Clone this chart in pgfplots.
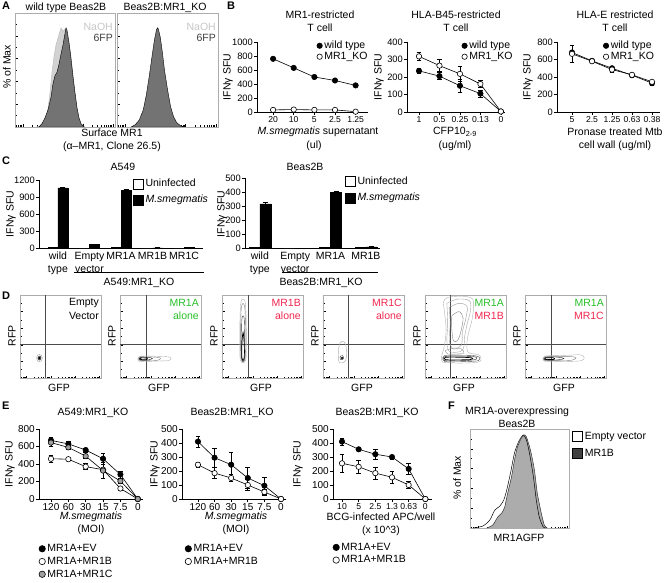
\documentclass[border=0pt]{standalone}
\usepackage{fontspec}
\setmainfont{Liberation Sans}
\usepackage{pgfplots}
\pgfplotsset{compat=1.18}
\definecolor{mygreen}{RGB}{40,190,40}
\definecolor{myred}{RGB}{240,40,80}
\newcommand\fs{\fontsize{10.5}{12}\selectfont}
\newcommand\ft{\fontsize{10}{12}\selectfont}
\newcommand\fsm{\fontsize{8.6}{10}\selectfont}
\newcommand\fm{\fontsize{9.3}{11}\selectfont}
\newcommand\T[4][]{\node[font=\fs,inner sep=0pt,#1] at (#2pt,{(582-#3)*1pt}) {#4};}
\newcommand\PL[3]{\node[font=\bfseries\fontsize{11}{12}\selectfont,inner sep=0pt,anchor=north west] at (#1pt,{(582-#2)*1pt}) {#3};}
\pgfplotsset{
  base/.style={scale only axis, anchor=south west, clip=false,
    /pgf/number format/assume math mode=true,
    /pgf/number format/set thousands separator={},
    tick label style={font=\ft, inner sep=1pt}},
  prism/.style={base,
    axis x line*=bottom, axis y line*=left,
    axis line style={line width=0.7pt, -},
    tick align=outside, major tick length=3pt,
    tick style={black, line width=0.7pt},
    ymin=0,
    legend style={draw=none, fill=none, font=\fs, inner sep=0pt, outer sep=0pt, row sep=-2pt, anchor=north west, cells={anchor=west}},
    legend image code/.code={\draw[##1, mark repeat=1] plot coordinates {(3pt,0pt)};}},
  bstyle/.style={prism, yticklabel style={font=\fm}, xticklabel style={font=\fsm}},
  lp/.style={black, line width=0.6pt, mark=*, mark size=2.7pt, mark options={solid, line width=0.6pt, draw=black, fill=#1},
    error bars/y dir=both, error bars/y explicit, error bars/error bar style={line width=0.6pt, black}, error bars/error mark options={rotate=90, mark size=2.3pt, line width=0.6pt, black}},
  bars/.style={prism, ybar=0pt, xtick style={draw=none},
    yticklabel style={font=\fm},
    xticklabel style={font=\fontsize{10.5}{13}\selectfont, align=center},
    legend style={row sep=3pt},
    legend image code/.code={\draw[##1] (0pt,-5pt) rectangle (10pt,5pt);}},
  bb/.style={draw=black, line width=0.6pt, fill=#1, error bars/y dir=plus, error bars/y explicit, error bars/error bar style={line width=0.6pt, black}, error bars/error mark options={rotate=90, mark size=2.5pt, line width=0.6pt, black}},
  flow/.style={base, clip=true, xmin=0,xmax=100,ymin=0,ymax=100,
    axis line style={draw=gray!65, line width=0.6pt},
    xtick pos=left, ytick pos=left, tick align=inside,
    major tick length=2.5pt, minor tick length=1.5pt,
    tick style={black, line width=0.5pt},
    xticklabels={}, yticklabels={},
    xtick={8,38,68,98}, minor xtick={1.3,3.4,5.1,6.6,17,22.3,26.1,29,31.3,33.4,35.1,36.6,47,52.3,56.1,59,61.3,63.4,65.1,66.6,77,82.3,86.1,89,91.3,93.4,95.1,96.6},
    ytick={0,20,40,60,80,100}, minor ytick={10,30,50,70,90}},
  ct/.style={smooth, tension=0.55, line width=0.4pt, draw=#1},
  ql/.style={black!70, line width=0.6pt},
}
\begin{document}
\begin{tikzpicture}
% ================= A
\PL{2}{2}{A}
\begin{axis}[flow, at={(15pt,455pt)}, width=100pt, height=114pt]
\addplot[fill=gray!35, draw=gray!55, line width=0.4pt] coordinates {(22,0) (25,1) (28,3) (31,8) (33,16) (35,30) (37,48) (39,62) (41,72) (43,78) (45,84) (46,87) (48,84) (50,86) (52,82) (54,74) (56,62) (58,46) (60,30) (62,16) (64,7) (66,2) (70,0)} \closedcycle;
\addplot[fill=black!55, draw=black, line width=0.4pt] coordinates {(24,0) (27,3) (30,8) (33,15) (36,26) (38,38) (40,45) (42,48) (44,55) (46,64) (48,72) (50,82) (51,87) (52,85) (54,74) (56,60) (58,44) (60,30) (62,17) (64,8) (66,3) (69,0)} \closedcycle;
\end{axis}
\begin{axis}[flow, at={(117pt,455pt)}, width=101pt, height=114pt]
\addplot[fill=black!55, draw=black, line width=0.4pt] coordinates {(14,0) (18,2) (22,6) (26,15) (29,28) (32,45) (35,64) (37,76) (39,85) (40,87) (41,86) (43,78) (45,65) (47,50) (50,33) (53,18) (56,9) (59,4) (63,1) (67,0)} \closedcycle;
\end{axis}
\T{66}{8}{wild type Beas2B}
\T{165}{8}{Beas2B:MR1\_KO}
\T[anchor=east, text=gray!45]{113}{27}{NaOH}
\T[anchor=east, text=black!75]{113}{38}{6FP}
\T[anchor=east, text=gray!45]{216}{27}{NaOH}
\T[anchor=east, text=black!75]{216}{38}{6FP}
\T[rotate=90]{7}{67}{\% of Max}
\T{112}{133}{Surface MR1}
\T{112}{147}{(α–MR1, Clone 26.5)}
% ================= B
\PL{227}{2}{B}
\begin{axis}[bstyle, at={(257pt,470pt)}, width=111pt, height=70pt,
  xmin=-0.78, xmax=4.6, ymax=1000, ytick={0,200,...,1000},
  xtick={0,...,4}, xticklabels={20,10,5,2.5,1.25},
  legend style={at={(0.54,1.04)}}]
\addplot[lp=black] coordinates {(0,760) (1,630) (2,500) (3,450) (4,380)};
\addlegendentry{wild type}
\addplot[lp=white] coordinates {(0,30) (1,35) (2,30) (3,30) (4,5)};
\addlegendentry{MR1\_KO}
\end{axis}
\T{320}{15}{MR1-restricted}
\T{320}{28}{T cell}
\T{318}{132}{\textit{M.smegmatis} supernatant}
\T{314}{146}{(ul)}
\T[rotate=90]{228}{77}{IFNγ SFU}
\begin{axis}[bstyle, at={(407pt,470pt)}, width=98pt, height=70pt,
  xmin=-0.585, xmax=4.2, ymax=400, ytick={0,100,...,400},
  xtick={0,...,4}, xticklabels={1,0.5,0.25,0.13,0},
  legend style={at={(0.56,1.04)}}]
\addplot[lp=black] coordinates {(0,235) +- (0,15) (1,205) +- (0,20) (2,150) +- (0,35) (3,105) +- (0,20) (4,3) +- (0,3)};
\addlegendentry{wild type}
\addplot[lp=white] coordinates {(0,318) +- (0,25) (1,265) +- (0,35) (2,218) +- (0,45) (3,160) +- (0,20) (4,3) +- (0,3)};
\addlegendentry{MR1\_KO}
\end{axis}
\T{456}{15}{HLA-B45-restricted}
\T{456}{28}{T cell}
\T{455}{132}{CFP10\textsubscript{2-9}}
\T{455}{146}{(ug/ml)}
\T[rotate=90]{379}{77}{IFNγ SFU}
\begin{axis}[bstyle, at={(557pt,470pt)}, width=103pt, height=70pt,
  xmin=-0.75, xmax=4.4, ymax=800, ytick={0,200,...,800},
  xtick={0,...,4}, xticklabels={5,2.5,1.25,0.63,0.38},
  legend style={at={(0.45,1.04)}}]
\addplot[lp=black] coordinates {(0,680) +- (0,30) (1,585) +- (0,15) (2,500) +- (0,20) (3,420) +- (0,10) (4,330) +- (0,25)};
\addlegendentry{wild type}
\addplot[lp=white] coordinates {(0,665) +- (0,95) (1,580) +- (0,15) (2,485) +- (0,35) (3,425) +- (0,10) (4,345) +- (0,15)};
\addlegendentry{MR1\_KO}
\end{axis}
\T{615}{15}{HLA-E restricted}
\T{615}{28}{T cell}
\T{615}{132}{Pronase treated Mtb}
\T{615}{146}{cell wall (ug/ml)}
\T[rotate=90]{528}{77}{IFNγ SFU}
% ================= C
\PL{2}{157}{C}
\begin{axis}[bars, at={(39pt,334pt)}, width=164pt, height=68pt, bar width=10pt,
  xmin=-0.6, xmax=4.6, ymax=1200, ytick={0,300,...,1200},
  xtick={0,...,4}, xticklabels={{wild\\type},{Empty\\vector},MR1A,MR1B,MR1C},
  legend style={at={(0.573,1.04)}}]
\addplot[bb=white] coordinates {(0,5) +- (0,2) (1,0) (2,5) +- (0,2) (3,0) (4,0)};
\addlegendentry{Uninfected}
\addplot[bb=black] coordinates {(0,1060) +- (0,15) (1,60) +- (0,8) (2,1010) +- (0,20) (3,3) +- (0,2) (4,10) +- (0,3)};
\addlegendentry{\textit{M.smegmatis}}
\end{axis}
\T{123}{167}{A549}
\T[rotate=90]{11}{214}{IFNγ SFU}
\draw[line width=0.6pt] (74pt,310pt) -- (204pt,310pt);
\T{139}{283}{A549:MR1\_KO}
\begin{axis}[bars, at={(245pt,334pt)}, width=135pt, height=70pt, bar width=11pt,
  xmin=-0.42, xmax=3.4, ymax=500, ytick={0,100,...,500},
  xtick={0,...,3}, xticklabels={{wild\\type},{Empty\\vector},MR1A,MR1B},
  legend style={at={(0.74,1.04)}}]
\addplot[bb=white] coordinates {(0,3) +- (0,2) (1,0) (2,5) +- (0,3) (3,3) +- (0,2)};
\addlegendentry{Uninfected}
\addplot[bb=black] coordinates {(0,315) +- (0,12) (1,0) (2,400) +- (0,3) (3,8) +- (0,3)};
\addlegendentry{\textit{M.smegmatis}}
\end{axis}
\T{305}{167}{Beas2B}
\T[rotate=90]{222}{214}{IFNγ SFU}
\draw[line width=0.6pt] (282pt,310pt) -- (378pt,310pt);
\T{321}{283}{Beas2B:MR1\_KO}
% ================= D
\PL{2}{292}{D}
% D1
\begin{axis}[flow, at={(20pt,204pt)}, width=81pt, height=83pt]
\addplot[ql] coordinates {(31,0) (31,100)};
\addplot[ql] coordinates {(0,41) (100,41)};
\addplot[ct=gray!70] coordinates {(27.5,24) (26.5,27.2) (24,28.5) (21.5,27.2) (20.5,24) (21.5,20.8) (24,19.5) (26.5,20.8) (27.5,24)};
\addplot[ct=black!80] coordinates {(26,24) (25.4,25.8) (24,26.5) (22.6,25.8) (22,24) (22.6,22.2) (24,21.5) (25.4,22.2) (26,24)};
\addplot[ct=black, fill=black] coordinates {(25.2,24) (24.8,25) (24,25.5) (23.2,25) (22.8,24) (23.2,23) (24,22.5) (24.8,23) (25.2,24)};
\end{axis}
% D2
\begin{axis}[flow, at={(120pt,204pt)}, width=81pt, height=83pt]
\addplot[ql] coordinates {(32,0) (32,100)};
\addplot[ql] coordinates {(0,41) (100,41)};
\addplot[ct=gray!60] coordinates {(22,23) (24,26) (35,26.5) (50,26) (60,25.5) (63,23.5) (60,21) (48,20.5) (35,20) (24,20) (22,23)};
\addplot[ct=gray] coordinates {(23,23) (25,25.5) (35,25.5) (45,25) (50,24) (47,21.5) (35,21) (25,21) (23,23)};
\addplot[ct=black!85] coordinates {(23.5,23) (25,24.8) (35,24.8) (40,23.5) (35,21.8) (25,21.7) (23.5,23)};
\addplot[ct=black, line width=0.7pt] coordinates {(24,23) (26,24.2) (33,24) (33,22.2) (26,22.2) (24,23)};
\end{axis}
% D3
\begin{axis}[flow, at={(222pt,204pt)}, width=81pt, height=83pt]
\addplot[ql] coordinates {(32,0) (32,100)};
\addplot[ql] coordinates {(0,41) (100,41)};
\addplot[ct=gray!60] coordinates {(26,18) (29.5,22) (30,40) (30,60) (29.5,80) (28.5,92) (26,95) (23.5,92) (22.5,80) (22,60) (22,40) (22.5,22) (26,18)};
\addplot[ct=gray] coordinates {(26,19) (28.5,23) (29,40) (29,60) (28.5,80) (27.5,88) (26,90) (24.5,88) (23.5,80) (23,60) (23,40) (23.5,23) (26,19)};
\addplot[ct=black!80] coordinates {(26,20) (28,24) (28,45) (27.5,70) (26,75) (24.5,70) (24,45) (24,24) (26,20)};
\addplot[ct=black, line width=0.7pt] coordinates {(26,21) (27.5,25) (27.5,40) (26,55) (24.5,40) (24.5,25) (26,21)};
\end{axis}
% D4
\begin{axis}[flow, at={(323pt,204pt)}, width=81pt, height=83pt]
\addplot[ql] coordinates {(31,0) (31,100)};
\addplot[ql] coordinates {(0,41) (100,41)};
\addplot[ct=gray!70] coordinates {(23,18) (28,21) (29,30) (28,40) (25,44) (21,42) (19,33) (19,24) (20,19) (23,18)};
\addplot[ct=black!80] coordinates {(23,22) (25,23) (25.5,25) (24,27) (22,26.5) (21,24.5) (21.5,22.5) (23,22)};
\addplot[ct=black, fill=black] coordinates {(24.4,24) (24,24.9) (23.2,25) (22.6,24.2) (23,23.3) (23.8,23.2) (24.4,24)};
\end{axis}
% D5
\begin{axis}[flow, at={(425pt,204pt)}, width=81pt, height=83pt]
\addplot[ql] coordinates {(31,0) (31,100)};
\addplot[ql] coordinates {(0,41) (100,41)};
\addplot[ct=gray!60] coordinates {(22,19) (40,18) (60,18.5) (68,20) (69,24) (66,28) (55,30) (52,34) (52,45) (54,55) (58,70) (60,85) (59,95) (52,98) (40,98.5) (28,97) (23,92) (24,80) (26,60) (25,45) (23,35) (21,28) (20,23) (22,19)};
\addplot[ct=gray!70] coordinates {(27,90) (40,95) (55,93) (56,80) (52,65) (49,50) (48,38) (44,32) (30,32) (27,45) (28,65) (27,90)};
\addplot[ct=gray!80] coordinates {(30,85) (42,90) (52,86) (50,70) (46,55) (45,40) (35,35) (30,45) (31,65) (30,85)};
\addplot[ct=gray] coordinates {(33,75) (42,80) (47,72) (44,55) (40,45) (35,45) (33,60) (33,75)};
\addplot[ct=gray!80] coordinates {(25,33) (35,36) (45,35) (48,30) (40,29) (28,29) (25,33)};
\addplot[ct=black!70] coordinates {(22,23) (24,27) (40,27.5) (60,27) (67,25) (66,21) (55,20) (35,19.5) (24,20) (22,23)};
\addplot[ct=black!85] coordinates {(23,23) (25,26) (45,26.3) (62,25.5) (63,22.5) (50,21) (30,20.8) (24,21) (23,23)};
\addplot[ct=black, line width=0.7pt] coordinates {(24,23) (26,25) (45,25) (58,24.2) (56,22.2) (35,21.8) (26,22) (24,23)};
\end{axis}
% D6
\begin{axis}[flow, at={(525pt,204pt)}, width=81pt, height=83pt]
\addplot[ql] coordinates {(32,0) (32,100)};
\addplot[ql] coordinates {(0,41) (100,41)};
\addplot[ct=gray!60] coordinates {(22,23) (25,26.5) (40,27) (55,27.5) (68,28) (73,25) (70,21) (55,20) (40,20) (25,20) (22,23)};
\addplot[ct=gray] coordinates {(23,23) (25,25.8) (40,26) (55,26) (63,24.5) (58,21.5) (40,21) (25,21) (23,23)};
\addplot[ct=black!85] coordinates {(23.5,23) (26,25) (40,25.2) (48,23.5) (40,21.8) (26,21.7) (23.5,23)};
\addplot[ct=black, line width=0.7pt] coordinates {(24,23) (26,24.3) (35,24.3) (36,22.5) (26,22.2) (24,23)};
\end{axis}
\T[anchor=east]{99}{303}{Empty}
\T[anchor=east]{99}{316}{Vector}
\T[anchor=east, text=mygreen]{199}{303}{MR1A}
\T[anchor=east, text=mygreen]{199}{316}{alone}
\T[anchor=east, text=myred]{301}{303}{MR1B}
\T[anchor=east, text=myred]{301}{316}{alone}
\T[anchor=east, text=myred]{402}{303}{MR1C}
\T[anchor=east, text=myred]{402}{316}{alone}
\T[anchor=east, text=mygreen]{504}{303}{MR1A}
\T[anchor=east, text=myred]{504}{316}{MR1B}
\T[anchor=east, text=mygreen]{604}{303}{MR1A}
\T[anchor=east, text=myred]{604}{316}{MR1C}
\foreach \xl in {20,120,222,323,425,525}{
  \T[rotate=90]{\xl-8}{336}{RFP}
  \T{\xl+39}{388}{GFP}
}
% ================= E
\PL{2}{402}{E}
\begin{axis}[prism, at={(39pt,83pt)}, width=104pt, height=70pt,
  xmin=-0.69, xmax=5.3, ymax=800, ytick={0,200,...,800},
  xtick={0,...,5}, xticklabels={120,60,30,15,7.5,0},
  legend style={at={(0,-0.62)}, row sep=0pt},
  legend image code/.code={\draw[#1, mark repeat=1, mark size=3.2pt] plot coordinates {(3.5pt,0pt)};}]
\addplot[lp=black] coordinates {(0,670) +- (0,30) (1,630) +- (0,25) (2,560) +- (0,25) (3,460) +- (0,60) (4,280) +- (0,40) (5,0) +- (0,3)};
\addlegendentry{MR1A+EV}
\addplot[lp=white] coordinates {(0,460) +- (0,35) (1,455) +- (0,15) (2,370) +- (0,35) (3,335) +- (0,20) (4,120) +- (0,15) (5,0) +- (0,3)};
\addlegendentry{MR1A+MR1B}
\addplot[lp=gray!75] coordinates {(0,645) +- (0,40) (1,590) +- (0,25) (2,490) +- (0,20) (3,325) +- (0,90) (4,205) +- (0,30) (5,0) +- (0,3)};
\addlegendentry{MR1A+MR1C}
\end{axis}
\T{93}{413}{A549:MR1\_KO}
\T{91}{517}{\textit{M.smegmatis}}
\T{91}{530}{(MOI)}
\T[rotate=90]{10}{464}{IFNγ SFU}
\begin{axis}[prism, at={(182pt,83pt)}, width=104pt, height=70pt,
  xmin=-0.96, xmax=5.3, ymax=500, ytick={0,100,...,500},
  xtick={0,...,5}, xticklabels={120,60,30,15,7.5,0},
  legend style={at={(0.03,-0.62)}, row sep=0pt},
  legend image code/.code={\draw[#1, mark repeat=1, mark size=3.2pt] plot coordinates {(3.5pt,0pt)};}]
\addplot[lp=black] coordinates {(0,410) +- (0,40) (1,295) +- (0,70) (2,245) +- (0,90) (3,150) +- (0,75) (4,95) +- (0,60) (5,0) +- (0,3)};
\addlegendentry{MR1A+EV}
\addplot[lp=white] coordinates {(0,245) +- (0,20) (1,185) +- (0,40) (2,150) +- (0,25) (3,100) +- (0,40) (4,50) +- (0,20) (5,0) +- (0,3)};
\addlegendentry{MR1A+MR1B}
\end{axis}
\T{232}{413}{Beas2B:MR1\_KO}
\T{236}{517}{\textit{M.smegmatis}}
\T{236}{530}{(MOI)}
\T[rotate=90]{155}{464}{IFNγ SFU}
\begin{axis}[prism, at={(333pt,83pt)}, width=99pt, height=70pt,
  xmin=-0.54, xmax=5.4, ymax=500, ytick={0,100,...,500},
  xtick={0,...,5}, xticklabels={10,5,2.5,1.3,0.63,0},
  xticklabel style={font=\fsm},
  legend style={at={(0,-0.6)}, row sep=0pt},
  legend image code/.code={\draw[#1, mark repeat=1, mark size=3.2pt] plot coordinates {(3.5pt,0pt)};}]
\addplot[lp=black] coordinates {(0,410) +- (0,25) (1,355) +- (0,10) (2,320) +- (0,35) (3,300) +- (0,15) (4,215) +- (0,40) (5,0) +- (0,3)};
\addlegendentry{MR1A+EV}
\addplot[lp=white] coordinates {(0,255) +- (0,65) (1,230) +- (0,45) (2,185) +- (0,45) (3,155) +- (0,40) (4,100) +- (0,25) (5,0) +- (0,3)};
\addlegendentry{MR1A+MR1B}
\end{axis}
\T{377}{413}{Beas2B:MR1\_KO}
\T{381}{517}{BCG-infected APC/well}
\T{381}{531}{(x 10\textasciicircum 3)}
\T[rotate=90]{298}{464}{IFNγ SFU}
% ================= F
\PL{448}{402}{F}
\begin{axis}[flow, at={(470pt,54pt)}, width=99pt, height=99pt, clip=false,
  legend style={draw=none, fill=none, font=\fs, inner sep=0pt, row sep=4pt, at={(1.03,0.99)}, anchor=north west, cells={anchor=west}},
  legend image code/.code={\draw[#1] (0pt,-5pt) rectangle (10pt,5pt);}]
\addplot[fill=gray!65, draw=none, forget plot] coordinates {(17,0) (23,3) (28,11) (32,15) (35,21) (38,35) (42,52) (45,69) (48,82) (52,91) (55,94) (57,92) (61,79) (65,59) (68,35) (72,15) (75,3) (78,0)} \closedcycle;
\addplot[draw=black, line width=0.5pt, smooth, tension=0.4, forget plot] coordinates {(3,0) (13,2) (20,8) (25,18) (30,22) (34,28) (37,38) (41,56) (45,76) (49,87) (52,92) (54,94) (57,89) (60,76) (64,52) (67,28) (70,11) (74,1) (77,0)};
\addplot[draw=black!80, line width=0.5pt, smooth, tension=0.4, forget plot] coordinates {(17,0) (23,3) (28,11) (32,15) (35,21) (38,35) (42,52) (45,69) (48,82) (52,91) (55,94) (57,92) (61,79) (65,59) (68,35) (72,15) (75,3) (78,0)};
\addlegendimage{draw=black, fill=white, line width=0.6pt}
\addlegendentry{Empty vector}
\addlegendimage{draw=black, fill=black!75, line width=0.6pt}
\addlegendentry{MR1B}
\end{axis}
\T{517}{412}{MR1A-overexpressing}
\T{517}{424}{Beas2B}
\T[rotate=90]{457}{478}{\% of Max}
\T{519}{538}{MR1AGFP}
\pgfresetboundingbox
\useasboundingbox (0,0) rectangle (668pt,582pt);
\end{tikzpicture}
\end{document}
